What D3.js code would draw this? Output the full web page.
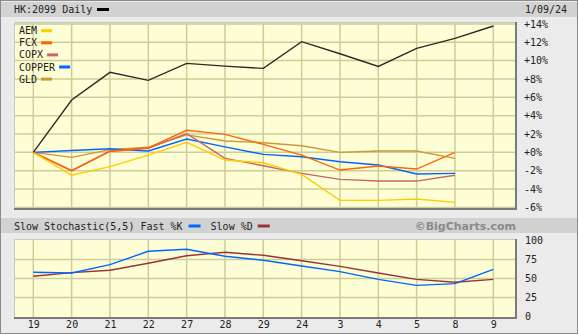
<!DOCTYPE html>
<html>
<head>
<meta charset="utf-8">
<script src="https://cdn.jsdelivr.net/npm/d3@7"></script>
<style>
  body { margin: 0; background: #fff; }
  text { font-family: 'DejaVu Sans Mono', monospace; font-size: 10px; fill: #222; }
</style>
</head>
<body>
<svg id="chart" width="579" height="335"></svg>
<script>
// trading days shown on the x axis
const dates = ['19', '20', '21', '22', '27', '28', '29', '24', '3', '4', '5', '8', '9'];

// % change since first day
const hk2099 = [0, 5.7, 8.72, 7.85, 9.7, 9.4, 9.15, 12.06, 10.75, 9.37, 11.33, 12.42, 13.77];
const aem = [0, -2.5, -1.55, -0.3, 1.1, -0.84, -1.13, -2.4, -5.23, -5.23, -5.09, -5.45];
const fcx = [0, -2.0, 0.15, 0.5, 2.4, 1.96, 0.87, -0.3, -1.93, -1.49, -1.82, 0];
const copx = [0, -2.0, 0.1, 0.45, 2.05, -0.65, -1.46, -2.29, -2.95, -3.13, -3.13, -2.5];
const copper = [0, 0.2, 0.4, 0.15, 1.45, 0.6, -0.22, -0.48, -1.02, -1.38, -2.36, -2.29];
const gld = [0, -0.55, 0.3, 0.55, 1.9, 1.23, 1.05, 0.72, 0, 0.15, 0.15, -0.65];

const pctTicks = [-6, -4, -2, 0, 2, 4, 6, 8, 10, 12, 14];

// slow stochastic (5,5)
const fastK = [58.2, 57.2, 68.2, 85.8, 88.4, 79.2, 74, 66.4, 59, 48.9, 41, 43.2, 62.1];
const slowD = [52.9, 57.7, 60.8, 70, 80, 84.5, 80.5, 73.4, 66, 57.2, 48.9, 45, 48.9];
const stochTicks = [0, 25, 50, 75, 100];

const compNames = ['AEM', 'FCX', 'COPX', 'COPPER', 'GLD'];
const compValues = [aem, fcx, copx, copper, gld];
const compColors = ['#ffcc00', '#ff6600', '#cc6666', '#0066ff', '#cc9933'];

const svg = d3.select('#chart');
const plotFill = '#fdfdd6';
const gridColor = '#cdcd98';

// frame
svg.append('rect').attr('x', 0.5).attr('y', 0.5).attr('width', 577).attr('height', 333)
  .attr('fill', '#ebebeb').attr('stroke', '#8a8a8a');
svg.append('rect').attr('x', 1).attr('y', 2).attr('width', 576).attr('height', 15).attr('fill', '#d2d2d2');
svg.append('rect').attr('x', 1).attr('y', 218).attr('width', 576).attr('height', 15).attr('fill', '#d2d2d2');

const x = d3.scalePoint().domain(dates).range([33.3, 493.3]);
const y = d3.scaleLinear().domain([-6, 14]).range([207.4, 23.9]);
const ys = d3.scaleLinear().domain([0, 100]).range([316.5, 240.5]);

function panel(top, bottom) {
  const g = svg.append('g');
  g.append('rect').attr('x', 14).attr('y', top).attr('width', 501).attr('height', bottom - top)
    .attr('fill', plotFill);
  return g;
}

function edges(g, top, bottom) {
  g.append('path').attr('d', `M14.5,${bottom}V${top + 0.5}H515`)
    .attr('fill', 'none').attr('stroke', '#c8c8c8');
  g.append('path').attr('d', `M14,${bottom + 1}H516V${top}`)
    .attr('fill', 'none').attr('stroke', '#7a7a7a').attr('stroke-width', 2);
}

// ---- main panel
const main = panel(22, 208);
main.selectAll('.vg').data(dates).join('line')
  .attr('x1', d => x(d)).attr('x2', d => x(d)).attr('y1', 22).attr('y2', 208)
  .attr('stroke', gridColor).attr('stroke-width', 1.5);
main.selectAll('.hg').data(pctTicks).join('line')
  .attr('x1', 14).attr('x2', 515).attr('y1', d => y(d)).attr('y2', d => y(d))
  .attr('stroke', gridColor).attr('stroke-width', 1.5);

const line = d3.line().x((d, i) => x(dates[i])).y(d => y(d));
[4, 3, 2, 1, 0].forEach(k => {
  main.append('path').datum(compValues[k]).attr('d', line)
    .attr('fill', 'none').attr('stroke', compColors[k]).attr('stroke-width', 1.4);
});
main.append('path').datum(hk2099).attr('d', line)
  .attr('fill', 'none').attr('stroke', '#2a2a2a').attr('stroke-width', 1.4);

// legend
const leg = main.selectAll('.leg').data(compNames).join('g')
  .attr('transform', (d, i) => `translate(19,${30.7 + i * 12.1})`);
leg.append('text').attr('dy', '0.35em').attr('fill', '#333').text(d => d);
leg.each(function (d, i) {
  const w = d3.select(this).select('text').node().getComputedTextLength();
  d3.select(this).append('rect').attr('x', w + 4).attr('y', -1.5).attr('width', 11).attr('height', 3)
    .attr('fill', compColors[i]);
});
edges(main, 22, 208);

svg.append('g').attr('transform', 'translate(516,0)')
  .call(d3.axisRight(y).tickValues(pctTicks).tickSize(0).tickPadding(8)
    .tickFormat(d => (d >= 0 ? '+' : '-') + Math.abs(d) + '%'))
  .call(g => g.select('.domain').remove())
  .selectAll('text').style('font-family', null).style('font-size', null).attr('fill', '#222');

// ---- stochastic panel
const stoch = panel(239, 317);
stoch.selectAll('.vg').data(dates).join('line')
  .attr('x1', d => x(d)).attr('x2', d => x(d)).attr('y1', 239).attr('y2', 317)
  .attr('stroke', gridColor).attr('stroke-width', 1.5);
stoch.selectAll('.hg').data(stochTicks.slice(1, 4)).join('line')
  .attr('x1', 14).attr('x2', 515).attr('y1', d => ys(d)).attr('y2', d => ys(d))
  .attr('stroke', gridColor).attr('stroke-width', 1.5);
const sline = d3.line().x((d, i) => x(dates[i])).y(d => ys(d));
stoch.append('path').datum(slowD).attr('d', sline)
  .attr('fill', 'none').attr('stroke', '#993333').attr('stroke-width', 1.4);
stoch.append('path').datum(fastK).attr('d', sline)
  .attr('fill', 'none').attr('stroke', '#0066ff').attr('stroke-width', 1.4);
edges(stoch, 239, 317);

svg.append('g').attr('transform', 'translate(516,0)')
  .call(d3.axisRight(ys).tickValues(stochTicks).tickSize(0).tickPadding(9))
  .call(g => g.select('.domain').remove())
  .selectAll('text').attr('fill', '#222');

svg.append('g').attr('transform', 'translate(0,317)')
  .call(d3.axisBottom(x).tickSize(0).tickPadding(4))
  .call(g => g.select('.domain').remove())
  .selectAll('text').attr('fill', '#222');

svg.selectAll('.tick text').attr('font-family', null).attr('font-size', null);

// ---- headers
svg.append('text').attr('x', 14).attr('y', 9).attr('dy', '0.35em').text('HK:2099 Daily');
svg.append('rect').attr('x', 97).attr('y', 8).attr('width', 12).attr('height', 3).attr('fill', '#000');
svg.append('text').attr('x', 525).attr('y', 9).attr('dy', '0.35em').text('1/09/24');

const h2 = svg.append('g').attr('transform', 'translate(14,226)');
const t1 = h2.append('text').attr('dy', '0.35em').text('Slow Stochastic(5,5) Fast %K');
const w1 = t1.node().getComputedTextLength();
h2.append('rect').attr('x', w1 + 6).attr('y', -1.5).attr('width', 12).attr('height', 3).attr('fill', '#0066ff');
const t2 = h2.append('text').attr('x', w1 + 28).attr('dy', '0.35em').text('Slow %D');
const w2 = t2.node().getComputedTextLength();
h2.append('rect').attr('x', w1 + 28 + w2 + 5).attr('y', -1.5).attr('width', 12).attr('height', 3).attr('fill', '#993333');

svg.append('text').attr('x', 516).attr('y', 226).attr('dy', '0.35em').attr('text-anchor', 'end')
  .style('font-family', "'DejaVu Sans', sans-serif").style('font-size', '11px').style('font-weight', 'bold')
  .attr('fill', '#8a8a8a').style('fill', '#8a8a8a').text('©BigCharts.com');
</script>
</body>
</html>
